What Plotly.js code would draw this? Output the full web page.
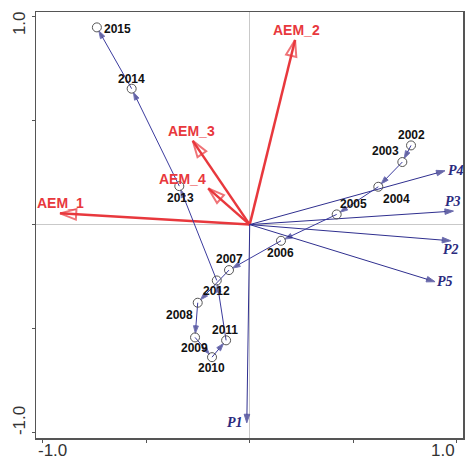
<!DOCTYPE html>
<html>
<head>
<meta charset="utf-8">
<script src="https://cdn.plot.ly/plotly-3.0.1.min.js"></script>
<style>html,body{margin:0;padding:0;background:#fff}</style>
</head>
<body>
<div id="chart" style="width:465px;height:463px"></div>
<script>
// ---------- data ----------
const years = ['2002','2003','2004','2005','2006','2007','2008','2009','2010','2011','2012','2013','2014','2015'];
const yearX = [0.779, 0.737, 0.621, 0.420, 0.151, -0.100, -0.251, -0.264, -0.182, -0.114, -0.159, -0.340, -0.570, -0.738];
const yearY = [0.381, 0.301, 0.182, 0.049, -0.078, -0.219, -0.376, -0.543, -0.638, -0.557, -0.269, 0.185, 0.654, 0.949];

const speciesNames = ['P1','P2','P3','P4','P5'];
const speciesX = [-0.014, 0.971, 0.984, 0.943, 0.895];
const speciesY = [-0.954, -0.078, 0.065, 0.259, -0.275];

const envNames = ['AEM_1','AEM_2','AEM_3','AEM_4'];
const envX = [-0.916, 0.219, -0.275, -0.200];
const envY = [0.054, 0.888, 0.403, 0.174];

const tickValues = [-1, -0.5, 0, 0.5, 1];
const tickLabelValues = [-1, 1];
const tickLabelTexts = ['-1.0', '1.0'];

// ---------- styling / label placement (pixel offsets of label centre) ----------
const RED = '#e8383d';
const NAVY = '#2f2f8f';
const TRAJ = '#3b3b9e';
const yearLabelOffsets = [[0,-10],[-17,-11],[18,12],[17,-10],[0,12],[0,-11],[-18,12],[-1,11],[-1,11],[-1,-10],[0,11],[1,12],[0,-10],[21,2]];
const speciesLabelOffsets = [[-12,0],[0,9],[0,-10],[11,0],[10,0]];
const envLabelOffsets = [[0,-10],[1,-10],[-1,-10],[-26,-9]];

const traces = [];
// environmental arrows (red, open heads)
envNames.forEach((n, i) => {
  traces.push({
    x: [0, envX[i]], y: [0, envY[i]], mode: 'lines+markers', type: 'scatter',
    line: {color: RED, width: 2.5},
    marker: {symbol: ['circle', 'arrow-open'], size: [0, 17], angleref: 'previous',
             color: RED, line: {color: RED, width: 2}},
    hoverinfo: 'skip', cliponaxis: false, showlegend: false
  });
});
// species arrows (navy, filled heads)
speciesNames.forEach((n, i) => {
  traces.push({
    x: [0, speciesX[i]], y: [0, speciesY[i]], mode: 'lines+markers', type: 'scatter',
    line: {color: NAVY, width: 1},
    marker: {symbol: ['circle', 'arrow'], size: [0, 9], angleref: 'previous', color: '#26267f'},
    hoverinfo: 'skip', cliponaxis: false, showlegend: false
  });
});
// trajectory of years
traces.push({
  x: yearX, y: yearY, mode: 'lines+markers', type: 'scatter',
  line: {color: TRAJ, width: 1},
  marker: {symbol: 'arrow', size: years.map((y, i) => i === 0 ? 0 : 8), angleref: 'previous',
           standoff: 4, color: '#23237a'},
  hoverinfo: 'skip', cliponaxis: false, showlegend: false
});
// year circles
traces.push({
  x: yearX, y: yearY, mode: 'markers', type: 'scatter',
  marker: {symbol: 'circle-open', size: 9, color: '#555', line: {width: 1, color: '#555'}},
  hoverinfo: 'skip', cliponaxis: false, showlegend: false
});

const annotations = [];
years.forEach((t, i) => annotations.push({
  x: yearX[i], y: yearY[i], text: '<b>' + t + '</b>', showarrow: false,
  xanchor: 'center', yanchor: 'middle', xshift: yearLabelOffsets[i][0], yshift: -yearLabelOffsets[i][1],
  font: {family: 'Liberation Sans, Arial, sans-serif', size: 12, color: '#111'}
}));
speciesNames.forEach((t, i) => annotations.push({
  x: speciesX[i], y: speciesY[i], text: '<b><i>' + t + '</i></b>', showarrow: false,
  xanchor: 'center', yanchor: 'middle', xshift: speciesLabelOffsets[i][0], yshift: -speciesLabelOffsets[i][1],
  font: {family: 'Liberation Serif, Times New Roman, serif', size: 14, color: '#2a2a7e'}
}));
envNames.forEach((t, i) => annotations.push({
  x: envX[i], y: envY[i], text: '<b>' + t + '</b>', showarrow: false,
  xanchor: 'center', yanchor: 'middle', xshift: envLabelOffsets[i][0], yshift: -envLabelOffsets[i][1],
  font: {family: 'Liberation Sans, Arial, sans-serif', size: 14, color: RED}
}));
// axis tick labels (pulled inside the frame, as in the original)
const xShifts = [10, -13.5];
const yShifts = [11.3, -6.3];
tickLabelValues.forEach((v, i) => {
  annotations.push({
    xref: 'x', yref: 'paper', x: v, y: 0, text: tickLabelTexts[i], showarrow: false,
    xanchor: 'center', yanchor: 'top', xshift: xShifts[i], yshift: -1,
    font: {family: 'Liberation Sans, Arial, sans-serif', size: 17, color: '#333'}
  });
  annotations.push({
    xref: 'paper', yref: 'y', x: 0, y: v, text: tickLabelTexts[i], showarrow: false, textangle: -90,
    xanchor: 'center', yanchor: 'middle', xshift: -17, yshift: yShifts[i],
    font: {family: 'Liberation Sans, Arial, sans-serif', size: 17, color: '#333'}
  });
});

const axisCommon = {
  tickvals: tickValues, ticks: 'outside', ticklen: 3, tickwidth: 1, tickcolor: '#555',
  showticklabels: false, showgrid: false,
  zeroline: true, zerolinecolor: '#c9c9c9', zerolinewidth: 1.5,
  showline: true, mirror: true, linecolor: '#555', linewidth: 1.5
};

const layout = {
  width: 465, height: 463,
  margin: {l: 36, r: 2, t: 12, b: 25},
  paper_bgcolor: '#fff', plot_bgcolor: '#fff',
  xaxis: Object.assign({range: [-1.032, 1.030]}, axisCommon),
  yaxis: Object.assign({range: [-1.027, 1.023]}, axisCommon),
  showlegend: false,
  annotations: annotations
};

Plotly.newPlot('chart', traces, layout, {staticPlot: true, displayModeBar: false});
</script>
</body>
</html>
